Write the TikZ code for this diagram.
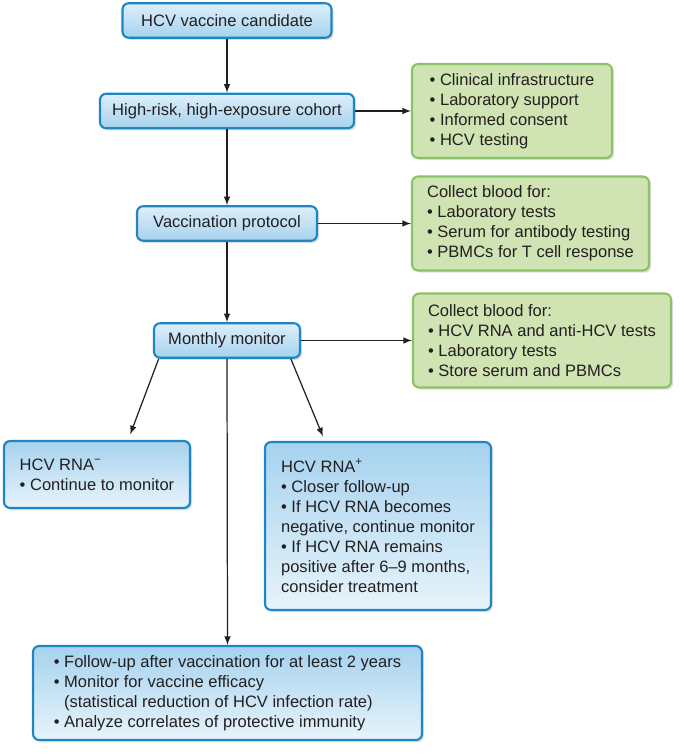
\documentclass[tikz,border=0pt]{standalone}
\usepackage{fontspec}
\setmainfont{Liberation Sans}
\usepackage{xcolor}
\usepackage{tikz}
\usetikzlibrary{arrows,shadows}

\definecolor{bord}{HTML}{1E86C1}
\definecolor{bluelt}{HTML}{DDEFFA}
\definecolor{bluedk}{HTML}{A6D2EE}
\definecolor{grfill}{HTML}{CFE4B2}
\definecolor{grbord}{HTML}{8CC267}
\definecolor{ink}{HTML}{231F20}

\begin{document}
\begin{tikzpicture}[font=\fontsize{9.4}{11.4}\selectfont, text=ink,
  stepbox/.style={draw=bord, line width=1.2pt, rounded corners=3.5pt, top color=bluelt, bottom color=bluedk,
    drop shadow={opacity=0.25, shadow xshift=1.2pt, shadow yshift=-1.2pt}, minimum height=0.69cm, inner sep=0pt},
  bigbox/.style={draw=bord, line width=1.2pt, rounded corners=3.5pt, top color=bluedk, bottom color=bluelt!70!white,
    drop shadow={opacity=0.25, shadow xshift=1.2pt, shadow yshift=-1.2pt}, align=left, inner sep=0pt},
  notebox/.style={draw=grbord, line width=1.2pt, rounded corners=3.5pt, fill=grfill,
    drop shadow={opacity=0.25, shadow xshift=1.2pt, shadow yshift=-1.2pt}, align=left, inner sep=0pt, minimum height=1.88cm},
  flow/.style={-latex, line width=0.7pt, draw=ink}]
\useasboundingbox (0,0) rectangle (13.7,-15.08) ;
% main column
\node[stepbox, minimum width=4.18cm] (cand) at (4.54,-0.41) {HCV vaccine candidate} ;
\node[stepbox, minimum width=5.08cm] (cohort) at (4.54,-2.22) {High-risk, high-exposure cohort} ;
\node[stepbox, minimum width=3.6cm] (vacc) at (4.54,-4.47) {Vaccination protocol} ;
\node[stepbox, minimum width=2.92cm] (monthly) at (4.54,-6.81) {Monthly monitor} ;
% side notes
\node[notebox, minimum width=4.0cm] (infra) at (10.24,-2.22)
  {• Clinical infrastructure\\• Laboratory support\\• Informed consent\\• HCV testing} ;
\node[notebox, minimum width=4.74cm] (blood1) at (10.61,-4.47)
  {Collect blood for:\\• Laboratory tests\\• Serum for antibody testing\\• PBMCs for T cell response} ;
\node[notebox, minimum width=5.16cm] (blood2) at (10.84,-6.81)
  {Collect blood for:\\• HCV RNA and anti-HCV tests\\• Laboratory tests\\• Store serum and PBMCs} ;
% outcomes
\node[bigbox, minimum width=3.72cm, minimum height=1.34cm] (rnaneg) at (1.94,-9.49)
  {HCV RNA\textsuperscript{−}\\• Continue to monitor} ;
\node[bigbox, minimum width=4.52cm, minimum height=3.36cm] (rnapos) at (7.56,-10.52)
  {HCV RNA\textsuperscript{+}\\• Closer follow-up\\• If HCV RNA becomes\\negative, continue monitor\\• If HCV RNA remains\\positive after 6--9 months,\\consider treatment} ;
\node[bigbox, minimum width=7.78cm, minimum height=1.88cm] (final) at (4.55,-13.86)
  {• Follow-up after vaccination for at least 2 years\\• Monitor for vaccine efficacy\\\phantom{• }(statistical reduction of HCV infection rate)\\• Analyze correlates of protective immunity} ;
% connectors
\draw[flow] (cand) -- (cohort) ;
\draw[flow] (cohort) -- (vacc) ;
\draw[flow] (vacc) -- (monthly) ;
\draw[flow] (cohort.east) -- (infra.west) ;
\draw[flow] (vacc.east) -- (blood1.west) ;
\draw[flow] (monthly.east) -- (blood2.west) ;
\draw[flow, shorten >=0.12cm] (monthly.195) -- (rnaneg.48) ;
\draw[flow, shorten >=0.1cm] (monthly.344) -- (rnapos.122) ;
\draw[flow] (monthly.south) -- (final.north) ;
\end{tikzpicture}
\end{document}
